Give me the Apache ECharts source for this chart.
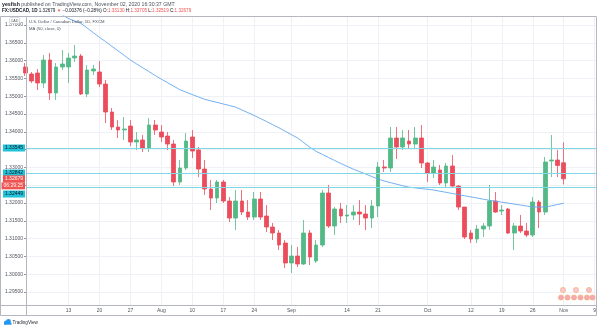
<!DOCTYPE html>
<html><head><meta charset="utf-8">
<script src="https://cdn.jsdelivr.net/npm/echarts@6/dist/echarts.min.js"></script>
<style>html,body{margin:0;padding:0;background:#fff}#c{width:600px;height:329px}</style>
</head><body><div id="c"></div>
<script>
// trading days (last ones are future, empty)
const dates = [
'2020-07-02','2020-07-03',
'2020-07-06','2020-07-07','2020-07-08','2020-07-09','2020-07-10',
'2020-07-13','2020-07-14','2020-07-15','2020-07-16','2020-07-17',
'2020-07-20','2020-07-21','2020-07-22','2020-07-23','2020-07-24',
'2020-07-27','2020-07-28','2020-07-29','2020-07-30','2020-07-31',
'2020-08-03','2020-08-04','2020-08-05','2020-08-06','2020-08-07',
'2020-08-10','2020-08-11','2020-08-12','2020-08-13','2020-08-14',
'2020-08-17','2020-08-18','2020-08-19','2020-08-20','2020-08-21',
'2020-08-24','2020-08-25','2020-08-26','2020-08-27','2020-08-28',
'2020-08-31','2020-09-01','2020-09-02','2020-09-03','2020-09-04',
'2020-09-07','2020-09-08','2020-09-09','2020-09-10','2020-09-11',
'2020-09-14','2020-09-15','2020-09-16','2020-09-17','2020-09-18',
'2020-09-21','2020-09-22','2020-09-23','2020-09-24','2020-09-25',
'2020-09-28','2020-09-29','2020-09-30','2020-10-01','2020-10-02',
'2020-10-05','2020-10-06','2020-10-07','2020-10-08','2020-10-09',
'2020-10-12','2020-10-13','2020-10-14','2020-10-15','2020-10-16',
'2020-10-19','2020-10-20','2020-10-21','2020-10-22','2020-10-23',
'2020-10-26','2020-10-27','2020-10-28','2020-10-29','2020-10-30',
'2020-11-02','2020-11-03','2020-11-04','2020-11-05','2020-11-06',
'2020-11-09'];

const openP = [
1.35820,1.35623,1.35651,1.35371,1.36017,1.35090,1.35820,1.35820,1.36073,1.36129,
1.35062,1.35708,1.35680,1.35342,1.34556,1.34135,1.34051,1.34163,1.33713,1.33770,
1.33545,1.34191,1.33994,1.33882,1.33657,1.32590,1.32983,1.33854,1.33489,1.32955,
1.32393,1.32140,1.32590,1.32056,1.31578,1.32056,1.31747,1.31606,1.32112,1.31635,
1.31326,1.31157,1.30876,1.30315,1.30511,1.30286,1.31157,1.30371,1.30820,1.32281,
1.31354,1.31831,1.31635,1.31663,1.31747,1.31691,1.31578,1.31916,1.33011,1.32983,
1.33826,1.33573,1.33741,1.33657,1.33826,1.33123,1.32842,1.32927,1.32562,1.33039,
1.32477,1.31887,1.31157,1.30989,1.31269,1.31354,1.32056,1.31775,1.31831,1.31157,
1.31354,1.31213,1.31101,1.32028,1.31747,1.33180,1.33208,1.33130];
const highP = [
1.35932,1.35680,1.35764,1.36157,1.36213,1.35932,1.36298,1.36213,1.36438,1.36185,
1.35876,1.35876,1.35989,1.35455,1.34669,1.34331,1.34416,1.34331,1.33994,1.33910,
1.34388,1.34331,1.34191,1.33994,1.33770,1.33208,1.33966,1.34051,1.33573,1.33208,
1.32646,1.32646,1.32646,1.32168,1.32365,1.32365,1.32084,1.32309,1.32309,1.31944,
1.31438,1.31241,1.30961,1.30820,1.30764,1.31522,1.31241,1.30961,1.32365,1.32505,
1.31887,1.32000,1.31944,1.31944,1.32084,1.31944,1.32084,1.33151,1.33208,1.34135,
1.34135,1.34051,1.34051,1.34135,1.34191,1.33151,1.33208,1.33067,1.33123,1.33348,
1.32505,1.31887,1.31241,1.31382,1.31438,1.32505,1.32309,1.31944,1.31859,1.31438,
1.31663,1.31438,1.32168,1.32084,1.33292,1.33910,1.33489,1.33705];
const lowP = [
1.35567,1.35371,1.35174,1.35230,1.34893,1.34893,1.35736,1.35371,1.35961,1.35034,
1.34978,1.35595,1.35258,1.34247,1.34051,1.33826,1.33770,1.33601,1.33489,1.33432,
1.33432,1.33910,1.33713,1.33489,1.32477,1.32505,1.32927,1.33264,1.32730,1.32224,
1.31803,1.32000,1.32000,1.31466,1.31241,1.31663,1.31522,1.31522,1.31522,1.31185,
1.30961,1.30680,1.30174,1.30034,1.30202,1.30258,1.30258,1.30315,1.30764,1.31298,
1.31101,1.31438,1.31438,1.31522,1.31382,1.31241,1.31298,1.31606,1.32871,1.32871,
1.33236,1.33489,1.33545,1.33545,1.32983,1.32590,1.32702,1.32505,1.32449,1.32421,
1.31803,1.30989,1.30876,1.30876,1.31045,1.31241,1.31719,1.31663,1.31129,1.30680,
1.31157,1.31045,1.31045,1.31298,1.31663,1.32730,1.32730,1.32519];
const closeP = [
1.35651,1.35427,1.35371,1.36017,1.35090,1.35820,1.35904,1.36073,1.36129,1.35062,
1.35736,1.35764,1.35342,1.34556,1.34135,1.34051,1.34079,1.33713,1.33770,1.33545,
1.34191,1.34051,1.33854,1.33657,1.32590,1.32983,1.33741,1.33460,1.32955,1.32393,
1.32140,1.32590,1.32056,1.31578,1.32056,1.31747,1.31606,1.32112,1.31606,1.31326,
1.31157,1.30820,1.30315,1.30511,1.30286,1.31157,1.30483,1.30820,1.32281,1.31354,
1.31831,1.31635,1.31663,1.31747,1.31691,1.31578,1.31916,1.33011,1.32983,1.33826,
1.33573,1.33826,1.33657,1.33826,1.33123,1.32842,1.33011,1.32562,1.33039,1.32477,
1.31887,1.31045,1.30989,1.31269,1.31354,1.32056,1.31747,1.31803,1.31157,1.31354,
1.31213,1.31101,1.32028,1.31747,1.33151,1.33208,1.33055,1.32679];
const ma50 = [
null,null,null,null,null,1.37393,1.37281,1.37182,1.37112,1.37048,
1.36916,1.36786,1.36654,1.36531,1.36401,1.36275,1.36146,1.36017,1.35907,1.35798,
1.35691,1.35581,1.35478,1.35379,1.35281,1.35182,1.35112,1.35045,1.34978,1.34913,
1.34868,1.34826,1.34781,1.34739,1.34694,1.34615,1.34537,1.34458,1.34374,1.34287,
1.34199,1.34112,1.34017,1.33921,1.33826,1.33697,1.33565,1.33452,1.33365,1.33278,
1.33194,1.33110,1.33028,1.32952,1.32882,1.32815,1.32744,1.32674,1.32618,1.32573,
1.32528,1.32483,1.32444,1.32424,1.32404,1.32385,1.32365,1.32331,1.32300,1.32267,
1.32236,1.32202,1.32171,1.32140,1.32107,1.32076,1.32050,1.32022,1.31997,1.31969,
1.31944,1.31916,1.31887,1.31887,1.31887,1.31921,1.31958,1.31994];

const priceTicks = [1.295,1.300,1.305,1.310,1.315,1.320,1.325,1.330,1.335,1.340,1.345,1.350,1.355,1.360,1.365,1.370];
const xTickDates = ['2020-07-13','2020-07-20','2020-07-27','2020-08-03','2020-08-10','2020-08-17','2020-08-24','2020-09-01','2020-09-14','2020-09-21','2020-10-01','2020-10-12','2020-10-19','2020-10-26','2020-11-02','2020-11-09'];
const xTickLabels = ['13','20','27','Aug','10','17','24','Sep','14','21','Oct','12','19','26','Nov','9'];
const hLines = [1.33545, 1.32842, 1.32449];
const lastPrice = 1.32679;
const countdown = '06:29:25';

const xTickIdx = xTickDates.map(d => dates.indexOf(d));
const xLabelMap = {};
xTickIdx.forEach((ix, k) => { xLabelMap[ix] = xTickLabels[k]; });

const candles = openP.map((o, i) => [i, o, closeP[i], lowP[i], highP[i]]);
const maData = ma50.map((v, i) => [i, v]);

const FF = 'Liberation Sans, Arial, sans-serif';
const UP = '#53b987', DOWN = '#eb4d5c';

const chart = echarts.init(document.getElementById('c'), null, {renderer: 'canvas'});
const lblBase = {show: true, position: 'start', distance: 1, fontSize: 5, fontFamily: FF, padding: [1.5, 2, 0.5, 2]};
const icon = (cx, cy, fill) => ({type: 'circle', z: 52, shape: {cx: cx, cy: cy, r: 2.6}, style: {fill: fill, stroke: '#f6b26b', lineWidth: 0.7}});
chart.setOption({
  animation: false,
  backgroundColor: '#ffffff',
  grid: {left: 26, right: 4, top: 16, bottom: 24, containLabel: false},
  xAxis: {
    type: 'value', min: 0.13, max: 92.21,
    axisLine: {show: false},
    axisTick: {show: false, customValues: xTickIdx},
    axisLabel: {customValues: xTickIdx, formatter: v => xLabelMap[Math.round(v)] || '', fontSize: 5, color: '#50535e', fontFamily: FF, margin: 3},
    splitLine: {show: true, lineStyle: {color: '#eff1f6', width: 1}}
  },
  yAxis: {
    type: 'value', position: 'left', min: 1.29135, max: 1.37253,
    axisLine: {show: false},
    axisTick: {show: true, length: 2, customValues: priceTicks, lineStyle: {color: '#787b86', width: 0.8}},
    axisLabel: {customValues: priceTicks, formatter: v => v.toFixed(5), fontSize: 5, color: '#50535e', fontFamily: FF, margin: 3},
    splitLine: {show: true, lineStyle: {color: '#eff1f6', width: 1}}
  },
  series: [
    {
      type: 'candlestick', name: 'USDCAD', data: candles, barWidth: 4.2,
      itemStyle: {color: UP, color0: DOWN, borderColor: UP, borderColor0: DOWN, borderWidth: 0.8}
    },
    {
      type: 'line', name: 'MA (50, close, 0)', data: maData, showSymbol: false, symbol: 'none',
      connectNulls: false, clip: true, z: 3,
      lineStyle: {color: '#62a8ef', width: 0.9},
      markLine: {
        symbol: 'none', silent: true, animation: false, precision: 5,
        data: [
          {yAxis: hLines[0], lineStyle: {color: '#7fd8e4', width: 1, type: 'solid'},
           label: Object.assign({}, lblBase, {formatter: hLines[0].toFixed(5), backgroundColor: '#22c3d9', color: '#131722'})},
          {yAxis: hLines[1], lineStyle: {color: '#7fd8e4', width: 1, type: 'solid'},
           label: Object.assign({}, lblBase, {formatter: hLines[1].toFixed(5), backgroundColor: '#22c3d9', color: '#131722'})},
          {yAxis: hLines[2], lineStyle: {color: '#7fd8e4', width: 1, type: 'solid'},
           label: Object.assign({}, lblBase, {formatter: hLines[2].toFixed(5), backgroundColor: '#22c3d9', color: '#131722', offset: [0, 7]})},
          {yAxis: lastPrice, lineStyle: {color: 'rgba(255,255,255,0)', width: 0},
           label: Object.assign({}, lblBase, {formatter: lastPrice.toFixed(5), backgroundColor: '#ef5350', color: '#ffffff'})},
          {yAxis: lastPrice, lineStyle: {color: 'rgba(255,255,255,0)', width: 0},
           label: Object.assign({}, lblBase, {formatter: countdown, backgroundColor: '#ef5350', color: '#ffffff', offset: [0, 7]})}
        ]
      }
    }
  ],
  graphic: [
    {type: 'rect', z: 50, shape: {x: 0.5, y: 16.5, width: 596, height: 299}, style: {fill: 'none', stroke: '#b4b7c0', lineWidth: 1}},
    {type: 'line', z: 50, shape: {x1: 26.5, y1: 16, x2: 26.5, y2: 315.5}, style: {stroke: '#b4b7c0', lineWidth: 1}},
    {type: 'line', z: 50, shape: {x1: 0, y1: 305.5, x2: 597, y2: 305.5}, style: {stroke: '#b4b7c0', lineWidth: 1}},
    {type: 'rect', z: 50, shape: {x: 9.5, y: 17.5, width: 10, height: 6, r: 1}, style: {fill: '#fff', stroke: '#c3c6ce', lineWidth: 0.6}},
    {type: 'text', z: 51, x: 14.5, y: 20.7, style: {text: 'CAD', fontSize: 3.6, fontFamily: FF, fill: '#50535e', align: 'center', verticalAlign: 'middle'}},
    {type: 'text', z: 51, x: 2, y: 4.3, style: {
      text: '{b|yesfish} published on TradingView.com, November 02, 2020 16:30:37 GMT',
      fontSize: 5.2, fontFamily: FF, fill: '#4c525e', verticalAlign: 'middle',
      rich: {b: {fontWeight: 'bold', fill: '#131722', fontSize: 5.2, fontFamily: FF}}}},
    {type: 'text', z: 51, x: 2, y: 11.2, style: {
      text: '{b|FX:USDCAD, 1D} 1.32679 {r|▼} −0.00376 (−0.28%) O:{r|1.33130} H:{r|1.33705} L:{r|1.32519} C:{r|1.32679}',
      fontSize: 4.6, fontFamily: FF, fill: '#131722', verticalAlign: 'middle',
      rich: {b: {fontWeight: 'bold', fill: '#131722', fontSize: 4.6, fontFamily: FF}, r: {fill: '#ef5350', fontSize: 4.6, fontFamily: FF}}}},
    {type: 'text', z: 51, x: 29, y: 21.8, style: {text: 'U.S. Dollar / Canadian Dollar, 1D, FXCM', fontSize: 4.2, fontFamily: FF, fill: '#4c525e', verticalAlign: 'middle'}},
    {type: 'text', z: 51, x: 29, y: 28.6, style: {text: 'MA (50, close, 0)', fontSize: 4.2, fontFamily: FF, fill: '#4c525e', verticalAlign: 'middle'}},
    icon(563, 290, '#f8c6d4'), icon(576, 290, '#f8c6d4'), icon(589, 290, '#f3c0d0'),
    icon(561, 297.5, '#f4a7b9'), icon(567.5, 297.5, '#f4a7b9'), icon(574, 297.5, '#f4a7b9'),
    icon(580.5, 297.5, '#f4a7b9'), icon(587, 297.5, '#f4a7b9'), icon(592.5, 297.5, '#f4a7b9'),
    {type: 'circle', z: 51, shape: {cx: 6, cy: 322.5, r: 2}, style: {fill: '#2196f3'}},
    {type: 'circle', z: 51, shape: {cx: 8.5, cy: 321.5, r: 2.4}, style: {fill: '#2196f3'}},
    {type: 'rect', z: 51, shape: {x: 4, y: 322.5, width: 7.5, height: 2.2}, style: {fill: '#2196f3'}},
    {type: 'text', z: 51, x: 12.5, y: 323, style: {text: 'TradingView', fontSize: 4.6, fontFamily: FF, fill: '#2a2e39', verticalAlign: 'middle'}}
  ]
});
</script>
</body></html>
